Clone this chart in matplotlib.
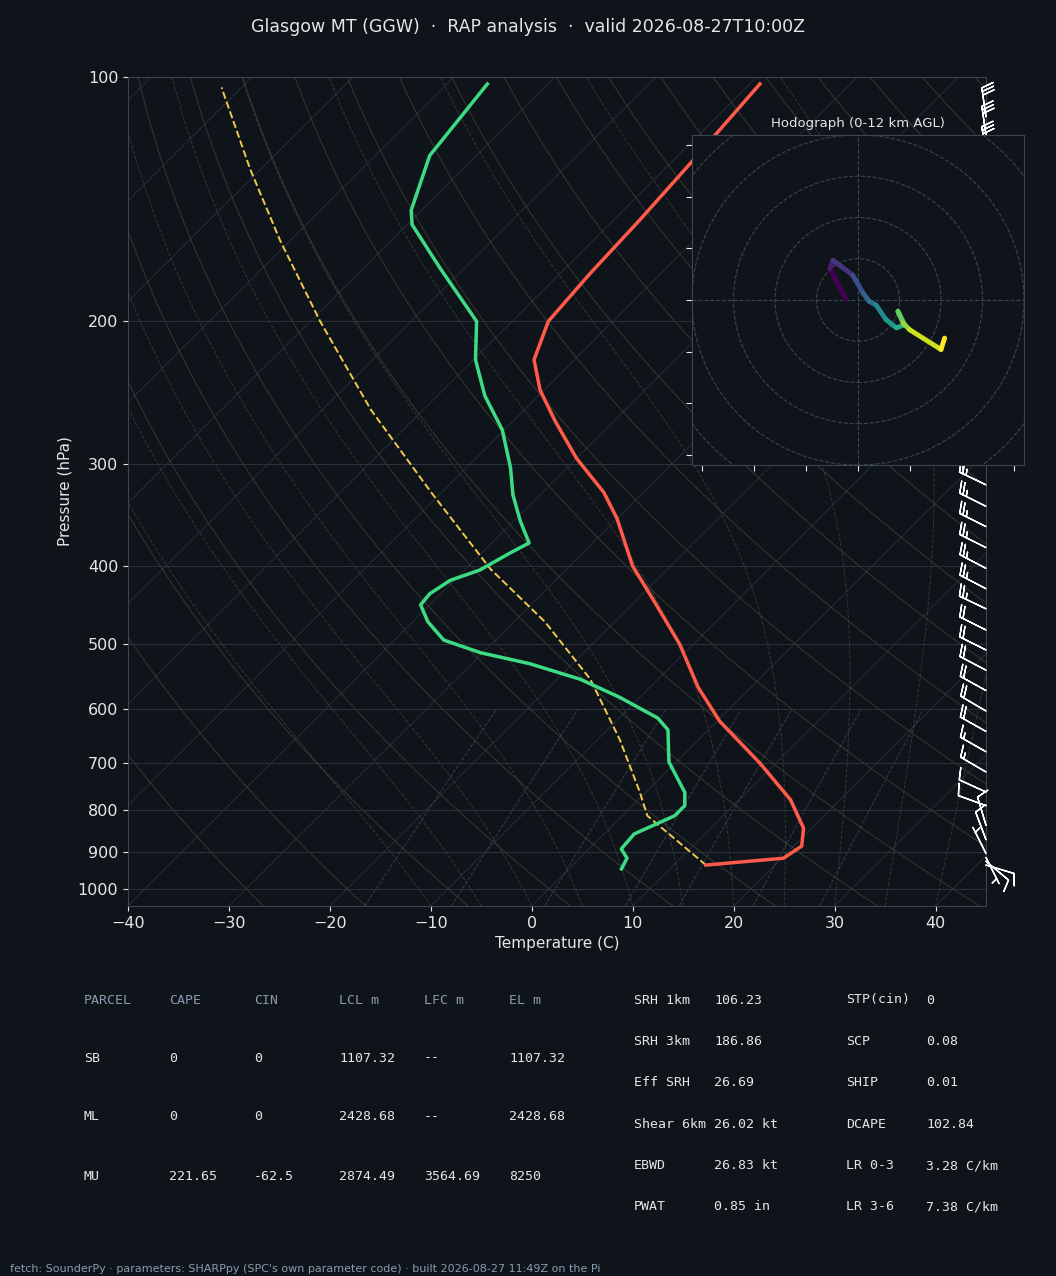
import numpy as np
import matplotlib.pyplot as plt
from matplotlib.collections import LineCollection

BG = "#0f141a"
FG = "#e6e6e6"
DIM = "#8a9bb0"
SKEW = 35.0
PBOT = 1050.0

# temperature profile (C) vs pressure (hPa)
t_p = [935, 917, 886, 842, 777, 700, 622, 565, 500, 445, 400, 350, 325, 295, 265, 243, 223, 200, 175, 150, 128, 102]
t_c = [13.2, 20.2, 20.8, 19.2, 15.1, 8.4, 0.3, -5.2, -11.3, -17.8, -23.8, -30.0, -33.9, -40.0, -45.9, -50.4, -54.0, -56.4, -57.0, -57.4, -58.0, -59.0]

# dewpoint profile
td_p = [945, 917, 893, 856, 813, 790, 761, 698, 637, 616, 581, 552, 528, 512, 494, 469, 447, 433, 417, 405, 386, 375,
        352, 327, 303, 272, 247, 223, 200, 172, 152, 146, 125, 102]
td_c = [5.2, 4.7, 3.2, 3.0, 5.2, 5.2, 3.9, -0.7, -4.0, -6.2, -12.0, -17.7, -24.3, -30.2, -35.1, -38.5, -40.9, -41.1,
        -40.4, -38.5, -37.2, -36.3, -39.4, -42.7, -45.6, -50.2, -55.3, -59.8, -63.5, -72.4, -79.5, -81.0, -84.6, -86.0]

# parcel trace
pc_p = [935, 813, 757, 655, 552, 469, 404, 325, 257, 200, 159, 130, 103]
pc_c = [13.2, 2.5, -0.8, -7.8, -16.7, -26.9, -37.5, -51.0, -65.2, -79.0, -91.0, -101.0, -112.0]

# wind barbs (kt)
wb_p = [935, 925, 915, 905, 870, 835, 790, 760, 718, 678, 640, 604, 570, 538, 508, 480, 452, 427, 403, 380, 358,
        338, 318, 300, 125, 118, 112]
wb_u = [-10, -6, -3, 3, 3, 3, 11, 11, 12, 14, 16, 17, 18, 19, 20, 20, 21, 21, 21, 22, 22, 22, 23, 23, 4, 4, 4]
wb_v = [3, 5, 6, -6, -8, -10, -4, -5, -7, -8, -9, -10, -10, -10, -10, -10, -10, -11, -11, -11, -11, -11, -11, -11,
        -28, -28, -28]

# hodograph (kt)
hodo_u = [-2.4, -5.4, -4.8, -1.0, 1.0, 2.2, 3.5, 5.4, 7.4, 9.0, 7.7, 8.7, 10.0, 16.0, 16.7]
hodo_v = [0.2, 6.1, 7.7, 4.8, 1.3, -0.3, -1.0, -3.8, -5.4, -4.8, -2.2, -4.5, -5.8, -9.6, -7.4]

parcel_hdr = ["PARCEL", "CAPE", "CIN", "LCL m", "LFC m", "EL m"]
parcel_rows = [["SB", "0", "0", "1107.32", "--", "1107.32"],
               ["ML", "0", "0", "2428.68", "--", "2428.68"],
               ["MU", "221.65", "-62.5", "2874.49", "3564.69", "8250"]]
idx_left = [("SRH 1km", "106.23"), ("SRH 3km", "186.86"), ("Eff SRH", "26.69"),
            ("Shear 6km", "26.02 kt"), ("EBWD", "26.83 kt"), ("PWAT", "0.85 in")]
idx_right = [("STP(cin)", "0"), ("SCP", "0.08"), ("SHIP", "0.01"),
             ("DCAPE", "102.84"), ("LR 0-3", "3.28 C/km"), ("LR 3-6", "7.38 C/km")]


def sk(t, p):
    return np.asarray(t) + SKEW * np.log(PBOT / np.asarray(p, dtype=float))


fig = plt.figure(figsize=(10.56, 12.76), dpi=100, facecolor=BG)
ax = fig.add_axes([0.1212, 0.29, 0.8125, 0.6497], facecolor=BG)
ax.set_yscale("log")
ax.set_ylim(PBOT, 100)
ax.set_xlim(-40, 45)

pp = np.geomspace(PBOT, 100, 200)
for T in range(-160, 50, 10):
    ax.plot(sk(T, pp), pp, color="#3a4450", lw=0.6, alpha=0.6, zorder=1)
for th in range(-30, 220, 10):
    t = (th + 273.15) * (pp / 1000.0) ** 0.2857 - 273.15
    ax.plot(sk(t, pp), pp, color="#5a5f45", lw=0.7, alpha=0.5, zorder=1)


def moist(t0):
    ps = np.geomspace(PBOT, 100, 300)
    T = t0 + 273.15
    out = []
    for i, p in enumerate(ps):
        out.append(T - 273.15)
        if i + 1 < len(ps):
            es = 6.112 * np.exp(17.67 * (T - 273.15) / (T - 29.65))
            rs = 0.622 * es / (p - es)
            num = 287.0 * T + 2.5e6 * rs
            den = 1004.0 + 2.5e6 ** 2 * rs * 0.622 / (287.0 * T * T)
            T += num / den / p * (ps[i + 1] - p)
    return ps, np.array(out)


for t0 in range(-10, 45, 5):
    ps, tm = moist(t0)
    ax.plot(sk(tm, ps), ps, color="#4a5040", lw=0.7, ls="--", alpha=0.6, zorder=1)

pm = np.geomspace(PBOT, 600, 50)
for w in [1, 2, 4, 7, 10, 16, 24]:
    e = pm * w / 1000.0 / (0.622 + w / 1000.0)
    td = 243.5 * np.log(e / 6.112) / (17.67 - np.log(e / 6.112))
    ax.plot(sk(td, pm), pm, color="#3f5060", lw=0.7, ls="--", alpha=0.7, zorder=1)

for p in [100, 200, 300, 400, 500, 600, 700, 800, 900, 1000]:
    ax.axhline(p, color="#2a323c", lw=0.7, zorder=1)

ax.plot(sk(pc_c, pc_p), pc_p, color="#f2c94c", lw=1.4, ls="--", zorder=3)
ax.plot(sk(t_c, t_p), t_p, color="#ff5a4a", lw=2.5, zorder=4)
ax.plot(sk(td_c, td_p), td_p, color="#3ddc84", lw=2.5, zorder=4)

ax.barbs(np.full(len(wb_p), 45.0), wb_p, wb_u, wb_v, color="white", length=6.5, lw=1.0, zorder=5, clip_on=False)

ticks = [100, 200, 300, 400, 500, 600, 700, 800, 900, 1000]
ax.set_yticks(ticks)
ax.set_yticklabels([str(t) for t in ticks])
ax.yaxis.set_minor_locator(plt.NullLocator())
ax.set_xticks(range(-40, 50, 10))
ax.tick_params(colors=FG, labelsize=11.5)
for s in ax.spines.values():
    s.set_color("#3a4552")
ax.set_xlabel("Temperature (C)", color=FG, fontsize=11)
ax.set_ylabel("Pressure (hPa)", color=FG, fontsize=11)
fig.text(0.5, 1 - 27 / 1276, "Glasgow MT (GGW)  ·  RAP analysis  ·  valid 2026-08-27T10:00Z",
         color=FG, fontsize=12.5, ha="center", va="center")

# hodograph inset
hx = fig.add_axes([0.6553, 0.6356, 0.3144, 0.2586], facecolor=BG)
hx.set_xlim(-32, 32)
hx.set_ylim(-32, 32)
for r in range(8, 48, 8):
    hx.add_patch(plt.Circle((0, 0), r, fill=False, color="#3a4552", ls="--", lw=0.8))
hx.axhline(0, color="#3a4552", ls="--", lw=0.8)
hx.axvline(0, color="#3a4552", ls="--", lw=0.8)
pts = np.column_stack([hodo_u, hodo_v])
segs = np.stack([pts[:-1], pts[1:]], axis=1)
lc = LineCollection(segs, cmap="viridis", linewidths=3.5, capstyle="round")
lc.set_array(np.arange(len(segs)))
hx.add_collection(lc)
hx.set_xticks(range(-30, 40, 10))
hx.set_yticks(range(-30, 40, 10))
hx.set_xticklabels([])
hx.set_yticklabels([])
hx.tick_params(colors=FG, length=4)
for s in hx.spines.values():
    s.set_color("#3a4552")
hx.set_title("Hodograph (0-12 km AGL)", color=FG, fontsize=9.5, pad=6)

# parameter tables
mono = dict(family="DejaVu Sans Mono", fontsize=9.5)
cols = [84, 169, 254, 339, 424, 509]
for x, h in zip(cols, parcel_hdr):
    fig.text(x / 1056, 1 - 1000 / 1276, h, color=DIM, va="center", **mono)
for i, row in enumerate(parcel_rows):
    y = 1058 + i * 59
    for x, v in zip(cols, row):
        fig.text(x / 1056, 1 - y / 1276, v, color=FG, va="center", **mono)
for i, ((a, b), (c, d)) in enumerate(zip(idx_left, idx_right)):
    y = 1000 + i * 41.4
    fig.text(634 / 1056, 1 - y / 1276, a, color=FG, va="center", **mono)
    fig.text(714 / 1056, 1 - y / 1276, b, color=FG, va="center", **mono)
    fig.text(846 / 1056, 1 - y / 1276, c, color=FG, va="center", **mono)
    fig.text(926 / 1056, 1 - y / 1276, d, color=FG, va="center", **mono)

fig.text(10 / 1056, 1 - 1269 / 1276,
         "fetch: SounderPy · parameters: SHARPpy (SPC's own parameter code) · built 2026-08-27 11:49Z on the Pi",
         color=DIM, fontsize=8, va="center")

fig.savefig("out.png", dpi=100, facecolor=BG)
